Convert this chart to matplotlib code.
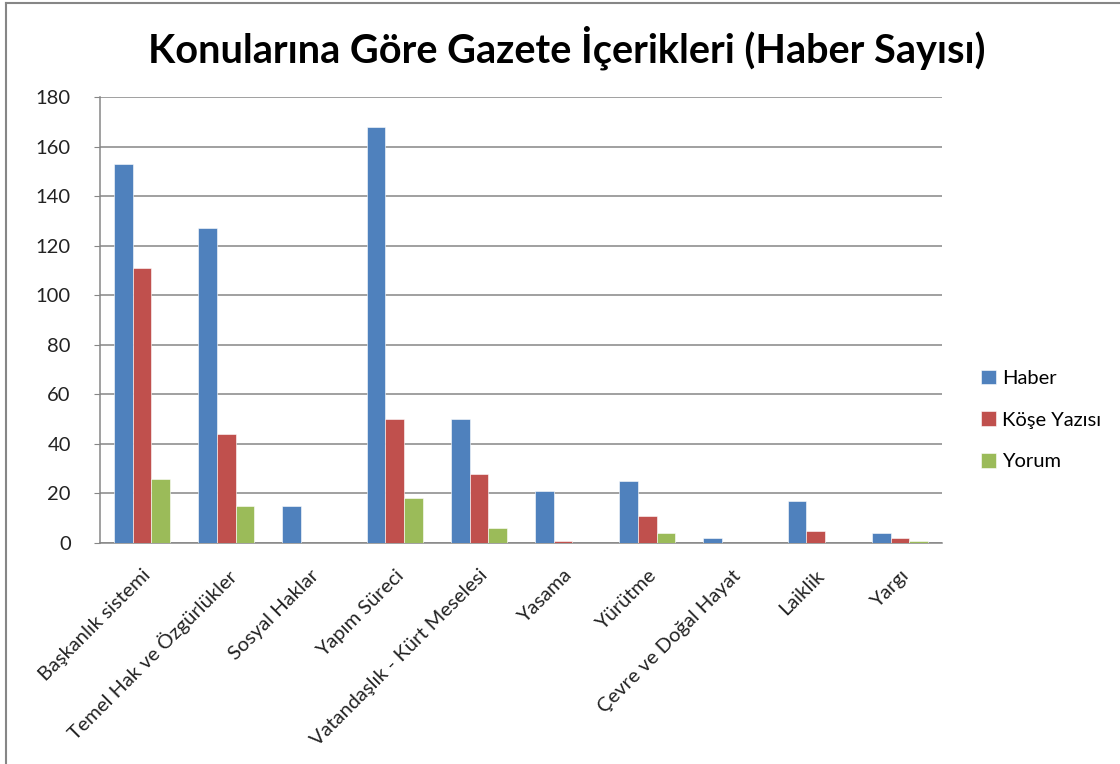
import matplotlib
matplotlib.use("Agg")
import matplotlib.pyplot as plt
import numpy as np
from matplotlib.lines import Line2D

categories = ["Başkanlık sistemi", "Temel Hak ve Özgürlükler", "Sosyal Haklar",
              "Yapım Süreci", "Vatandaşlık - Kürt Meselesi", "Yasama", "Yürütme",
              "Çevre ve Doğal Hayat", "Laiklik", "Yargı"]
haber = [153, 127, 15, 168, 50, 21, 25, 2, 17, 4]
kose_yazisi = [111, 44, 0, 50, 28, 1, 11, 0, 5, 2]
yorum = [26, 15, 0, 18, 6, 0, 4, 0, 0, 1]
series_names = ["Haber", "Köşe Yazısı", "Yorum"]
colors = ["#4F81BD", "#C0504D", "#9BBB59"]
yticks = [0, 20, 40, 60, 80, 100, 120, 140, 160, 180]

plt.rcParams['font.family'] = ['Lato', 'DejaVu Sans']

W, H = 1120, 764
fig = plt.figure(figsize=(W / 100, H / 100), dpi=100)
ax = fig.add_axes([100 / W, 1 - 543 / H, (942 - 100) / W, (543 - 97) / H])

x = np.arange(len(categories))
bw = 1 / 4.5
for i, (vals, name, c) in enumerate(zip([haber, kose_yazisi, yorum], series_names, colors)):
    ax.bar(x + (i - 1) * bw, vals, width=bw, color=c, label=name,
           edgecolor="white", linewidth=0.4, zorder=3)

ax.set_xlim(-0.5, len(categories) - 0.5)
ax.set_ylim(0, 180)
ax.set_yticks(yticks)
ax.set_yticklabels([str(t) for t in yticks], fontsize=14.5, color="#222222")
ax.yaxis.grid(True, color="#868686", linewidth=1.1, zorder=0)
ax.tick_params(axis="y", length=4, color="#868686", pad=17)
ax.set_xticks(x)
ax.set_xticklabels(categories, rotation=45, ha="right", rotation_mode="anchor",
                   fontsize=14.5, color="#222222")
ax.tick_params(axis="x", length=0, pad=17)
for s in ["top", "right"]:
    ax.spines[s].set_visible(False)
for s in ["left", "bottom"]:
    ax.spines[s].set_color("#868686")
    ax.spines[s].set_linewidth(1.1)

fig.text(567 / W, 1 - 48 / H, "Konularına Göre Gazete İçerikleri (Haber Sayısı)",
         ha="center", va="center", fontsize=28.5, fontweight="bold", color="black")

leg = ax.legend(loc="center left", bbox_to_anchor=(963 / W, 1 - 420 / H),
                bbox_transform=fig.transFigure, frameon=False, fontsize=14.5,
                handlelength=0.75, handleheight=0.75, handletextpad=0.3,
                labelspacing=1.2)

fig.add_artist(Line2D([6 / W, 6 / W], [0, 1 - 3 / H], transform=fig.transFigure,
                      color="#868686", linewidth=1.5))
fig.add_artist(Line2D([6 / W, 1], [1 - 3 / H, 1 - 3 / H], transform=fig.transFigure,
                      color="#868686", linewidth=1.5))

fig.savefig("out.png", dpi=100)
